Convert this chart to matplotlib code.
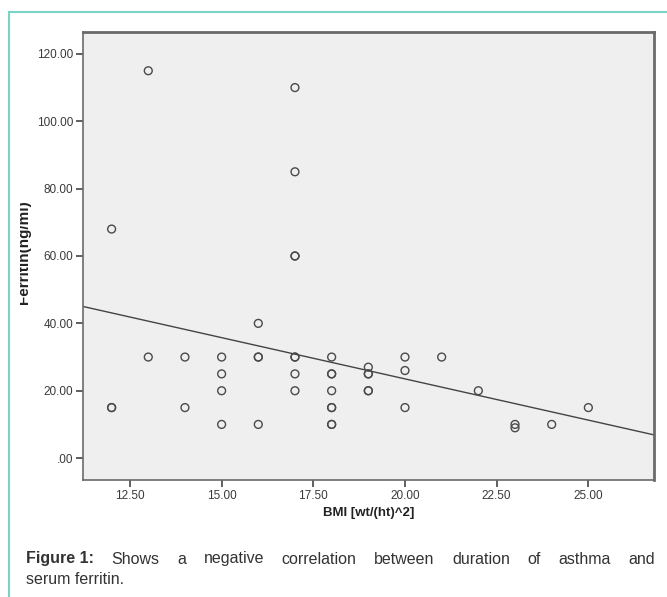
import numpy as np
import matplotlib.pyplot as plt
from matplotlib.transforms import Bbox

plt.rcParams['font.family'] = ['Liberation Sans', 'DejaVu Sans']

# données (BMI, ferritine)
bmi = [12, 12, 12,
       13, 13,
       14, 14,
       15, 15, 15, 15,
       16, 16, 16, 16,
       17, 17, 17, 17, 17, 17, 17, 17,
       18, 18, 18, 18, 18, 18, 18, 18,
       19, 19, 19, 19, 19,
       20, 20, 20,
       21, 22, 23, 23, 24, 25]
ferritin = [68, 15, 15,
            115, 30,
            30, 15,
            30, 25, 20, 10,
            40, 30, 30, 10,
            110, 85, 60, 60, 30, 30, 25, 20,
            30, 25, 25, 20, 15, 15, 10, 10,
            27, 25, 25, 20, 20,
            30, 26, 15,
            30, 20, 10, 9, 10, 15]

x_ticks = [12.5, 15.0, 17.5, 20.0, 22.5, 25.0]
y_ticks = [0, 20, 40, 60, 80, 100, 120]

W, H = 667, 597
fig = plt.figure(figsize=(W / 100, H / 100), dpi=100)
fig.patch.set_facecolor("white")

# cadre turquoise de la page
teal = "#79d3c6"
fig.add_artist(plt.Line2D([9 / W, 9 / W], [0, 1 - 12 / H], color=teal, lw=1.5))
fig.add_artist(plt.Line2D([9 / W, 1], [1 - 12 / H, 1 - 12 / H], color=teal, lw=1.5))

left, right, top, bottom = 83, 654, 32, 480
ax = fig.add_axes([left / W, 1 - bottom / H, (right - left) / W, (bottom - top) / H])
ax.set_facecolor("#efefef")
ax.set_xlim(11.22, 26.79)
ax.set_ylim(-6.5, 126.5)

ax.scatter(bmi, ferritin, s=32, facecolors="none", edgecolors="#4a4a4a", linewidths=1.0, zorder=3)

# droite de régression
pente, ordonnee = np.polyfit(bmi, ferritin, 1)
xs = np.array(ax.get_xlim())
ax.plot(xs, ordonnee + pente * xs, color="#444444", lw=1.0, zorder=2)

for side in ["top", "right", "left", "bottom"]:
    ax.spines[side].set_color("#6a6a6a")
ax.spines["top"].set_linewidth(2)
ax.spines["right"].set_linewidth(2)
ax.spines["left"].set_linewidth(1.2)
ax.spines["bottom"].set_linewidth(1.2)

ax.set_xticks(x_ticks)
ax.set_xticklabels([f"{v:.2f}" for v in x_ticks])
ax.set_yticks(y_ticks)
ax.set_yticklabels([".00" if v == 0 else f"{v:.2f}" for v in y_ticks])
ax.tick_params(direction="out", length=5, width=1.2, color="#444444",
               labelsize=8.5, labelcolor="#3a3a3a", pad=2)

ax.set_xlabel("BMI [wt/(ht)^2]", fontsize=9.5, fontweight="bold", color="#222222", labelpad=4)

# étiquette y coupée par le cadre
clip = Bbox.from_extents(20, 0, 80, H)
fig.text(31 / W, 1 - 252 / H, "Ferritin(ng/ml)", rotation=90, ha="right", va="center",
         fontsize=11, fontweight="bold", color="#222222", clip_on=True, clip_box=clip)

# légende de la figure, justifiée
mots = ["Shows", "a", "negative", "correlation", "between", "duration", "of", "asthma", "and"]
x0, x1 = 26, 655
y1 = 1 - 559 / H
fig.canvas.draw()
r = fig.canvas.get_renderer()
t0 = fig.text(x0 / W, y1, "Figure 1:", fontsize=11.5, fontweight="bold", color="#333333", va="center")
w0 = t0.get_window_extent(r).width
textes = [fig.text(0, y1, m, fontsize=11.5, color="#333333", va="center") for m in mots]
largeurs = [t.get_window_extent(r).width for t in textes]
debut = x0 + w0
espace = (x1 - debut - sum(largeurs)) / len(mots)
pos = debut + espace
for t, w in zip(textes, largeurs):
    t.set_x(pos / W)
    pos += w + espace
fig.text(x0 / W, 1 - 579 / H, "serum ferritin.", fontsize=11.5, color="#333333", va="center")

plt.savefig("out.png", dpi=100)
